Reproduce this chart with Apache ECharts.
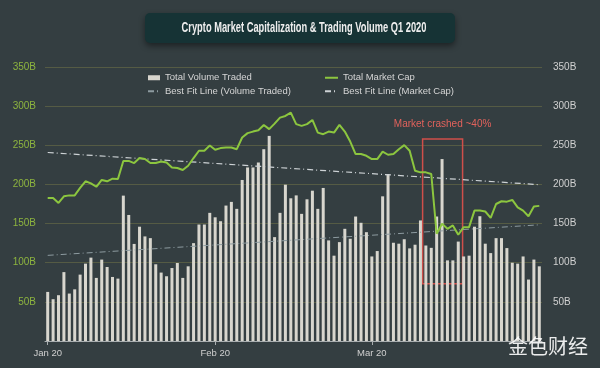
<!DOCTYPE html>
<html><head><meta charset="utf-8">
<script src="https://cdn.jsdelivr.net/npm/echarts@6/dist/echarts.min.js"></script>
<style>html,body{margin:0;padding:0;background:#343e41;} #c{width:600px;height:368px;}</style>
</head><body><div id="c"></div>
<script>
// Tick labels on the date axis
const tickLabels = ['Jan 20', 'Feb 20', 'Mar 20'];
const tickIndex = [0, 31, 60];
// Daily categories (Jan 1 2020 .. Apr 1 2020)
const categories = [];
for (let i = 0; i < 92; i++) {
  const d = new Date(Date.UTC(2020, 0, 1 + i));
  categories.push(d.toISOString().slice(0, 10));
}
// Total volume traded (B USD)
const volume = [62.7,53.4,58.5,88,60.6,66,84.8,98.8,106.5,80.6,104,94.5,81.8,79.7,185.7,161,124,146,133.6,131.4,98,87.4,82.7,93.2,99.6,
  80.6,95.4,125,148.8,148.8,163.7,158,153,173,177.7,168.8,205.7,221.7,221.7,228,245,262,132.7,163.7,199.7,182.3,186,162.4,181,
  192,168.8,195.5,128.5,109,126.3,143.3,130.6,159,151,139,108,114.9,184.8,213.3,125.5,124.3,130,118.3,123,154,122,119,159,
  232.4,103,103,127,108,109,146,159.4,124.3,112.3,131.4,131.4,118.7,100,98.8,108,78.5,104,95.4];
// Total market cap (B USD)
const marketCap = [182.8,182.6,176.4,184.8,186,186,195.5,204,201.4,197,205.7,204,207.3,207,230,230,227.3,233.7,232.4,227.3,227.3,229.3,228,221.7,221,
  218.4,223.9,233.7,243,243,249.7,244.2,246.4,247.2,247.2,245,260,265.5,267.5,269.3,276,270.6,277.7,285.3,287.5,291.7,277,274.8,277,
  282.4,266.2,264.2,267.5,266.2,276,267.5,254.8,238.8,238.8,236.6,232.4,232.4,242,237.9,238.8,245,250.2,243,217.5,215.4,215.4,213.3,
  137,149.7,143.3,147.6,135.7,145.4,145.4,166.6,166.6,165.4,157.3,175,178.5,178,180.2,170.8,166.6,159.4,171.7,172.6];
// Best fit line end points [first day, last day]
const fitVolumeEnds = [109.4, 148.4];
const fitCapEnds = [240.8, 199.7];
// Crash annotation box: day-index span and value span
const crashRange = [69.4, 76.8];
const crashValues = [258, 73];

const chart = echarts.init(document.getElementById('c'), null, {renderer: 'canvas'});
const font = "'Liberation Sans', Arial, sans-serif";
const showTick = (idx) => tickIndex.indexOf(idx) >= 0;
const last = categories.length - 1;
const legendText = {color: '#d5d5d5', fontSize: 9.5, lineHeight: 13.5, fontFamily: font};

chart.setOption({
  backgroundColor: '#343e41',
  animation: false,
  textStyle: {fontFamily: font},
  graphic: [
    {type: 'rect', left: 145, top: 13, shape: {width: 310, height: 30, r: 5},
     style: {fill: '#163335', shadowBlur: 6, shadowColor: 'rgba(0,0,0,0.45)', shadowOffsetY: 3}, z: 10},
    {type: 'text', x: 304, y: 28, scaleX: 0.62, z: 11,
     style: {text: 'Crypto Market Capitalization & Trading Volume Q1 2020', fill: '#eeeeee',
       align: 'center', verticalAlign: 'middle',
       font: "bold 15px 'Liberation Sans', Arial, sans-serif"}},
    {type: 'text', right: 12, top: 336, z: 11,
     style: {text: '金色财经', fill: 'rgba(255,255,255,0.9)', font: "20px 'Noto Sans CJK SC', sans-serif"}}
  ],
  legend: [
    {left: 147, top: 71, padding: 0, orient: 'vertical', itemGap: 0, itemWidth: 12, itemHeight: 5,
     textStyle: legendText,
     data: [{name: 'Total Volume Traded', icon: 'rect'}, 'Best Fit Line (Volume Traded)']},
    {left: 324, top: 71, padding: 0, orient: 'vertical', itemGap: 0, itemWidth: 13, itemHeight: 5,
     textStyle: legendText,
     data: ['Total Market Cap', 'Best Fit Line (Market Cap)']}
  ],
  grid: {left: 45, right: 58, top: 67, bottom: 27},
  xAxis: [{
    type: 'category', data: categories, boundaryGap: true,
    axisLine: {lineStyle: {color: '#a8adaf', width: 1}},
    axisTick: {show: true, alignWithLabel: true, interval: showTick, length: 4, lineStyle: {color: '#a8adaf'}},
    axisLabel: {interval: showTick, color: '#d0d0d0', fontSize: 9.5, margin: 7,
      formatter: (v, i) => tickLabels[tickIndex.indexOf(i)] || ''},
    splitLine: {show: false}
  }, {
    type: 'value', min: -0.5, max: last + 0.5, show: false, splitLine: {show: false}
  }],
  yAxis: [
    {type: 'value', min: 0, max: 350, interval: 50, position: 'left',
     axisLine: {show: false}, axisTick: {show: false},
     axisLabel: {color: '#8db43f', fontSize: 10, margin: 9, formatter: v => v === 0 ? '' : v + 'B'},
     splitLine: {lineStyle: {color: 'rgba(150,145,75,0.35)', width: 1}}},
    {type: 'value', min: 0, max: 350, interval: 50, position: 'right',
     axisLine: {show: false}, axisTick: {show: false},
     axisLabel: {color: '#d0d0d0', fontSize: 10, margin: 11, formatter: v => v === 0 ? '' : v + 'B'},
     splitLine: {show: false}}
  ],
  series: [
    {name: 'Total Volume Traded', type: 'bar', yAxisIndex: 0, data: volume, barWidth: 3,
     itemStyle: {color: '#d8d6ce'}},
    {name: 'Total Market Cap', type: 'line', yAxisIndex: 1, data: marketCap, symbol: 'none',
     lineStyle: {color: '#8cc63f', width: 2}, itemStyle: {color: 'rgba(0,0,0,0)'}, z: 5},
    {name: 'Best Fit Line (Volume Traded)', type: 'line', yAxisIndex: 0, symbol: 'none',
     data: [[0, fitVolumeEnds[0]], [last, fitVolumeEnds[1]]],
     lineStyle: {color: '#8d9ba0', width: 1, type: [6, 3, 1, 3]}, itemStyle: {color: 'rgba(0,0,0,0)'}, z: 4},
    {name: 'Best Fit Line (Market Cap)', type: 'line', yAxisIndex: 0, symbol: 'none',
     data: [[0, fitCapEnds[0]], [last, fitCapEnds[1]]],
     lineStyle: {color: '#cdd2d5', width: 1.2, type: [6, 3, 1, 3]}, itemStyle: {color: 'rgba(0,0,0,0)'}, z: 4},
    {name: 'crash', type: 'line', xAxisIndex: 1, yAxisIndex: 0, data: [], symbol: 'none', z: 6,
     markArea: {silent: true,
       itemStyle: {color: 'rgba(0,0,0,0)', borderColor: '#cf4f4a', borderWidth: 1.5},
       label: {show: true, position: 'top', distance: 9, color: '#e2625c', fontSize: 10,
         formatter: 'Market crashed ~40%', fontFamily: font},
       data: [[{coord: [crashRange[0], crashValues[0]]},
               {coord: [crashRange[1], crashValues[1]]}]]}}
  ]
});
</script></body></html>
